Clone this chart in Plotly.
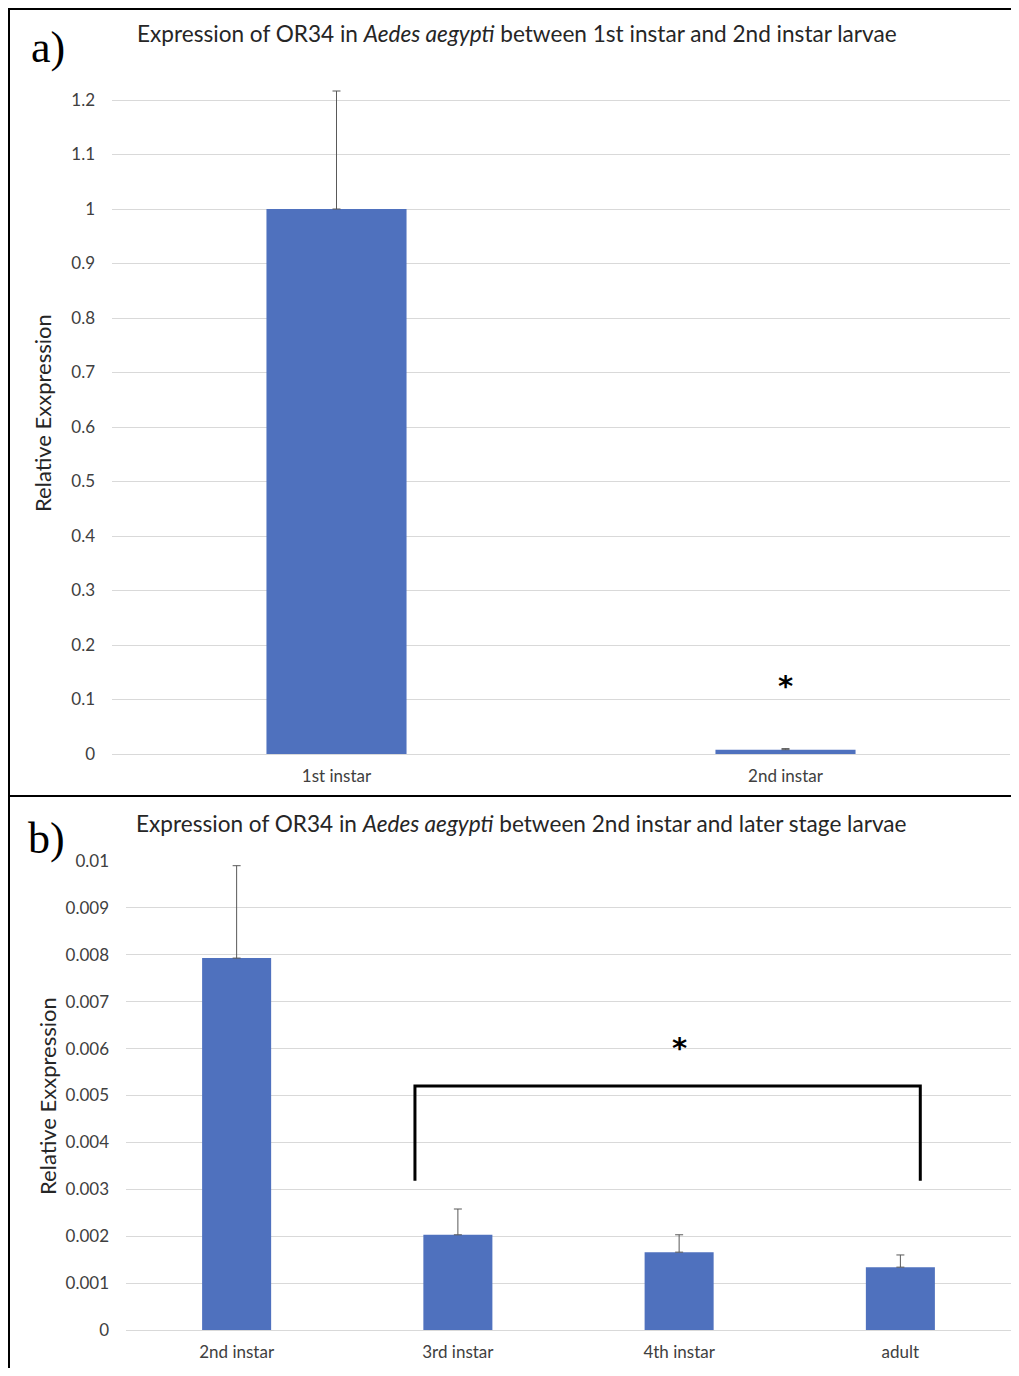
import plotly.graph_objects as go

# ---- data ----
cats_a = ["1st instar", "2nd instar"]
vals_a = [1.0, 0.0079]
err_a = [0.2165, 0.0020]

cats_b = ["2nd instar", "3rd instar", "4th instar", "adult"]
vals_b = [0.00793, 0.00203, 0.00166, 0.00134]
err_b = [0.00197, 0.00055, 0.00037, 0.00026]

star_a = ["2nd instar", 0.125]
star_b = [2.0, 0.00601]
bracket_x = [0.806, 3.09]
bracket_y = [0.00318, 0.0052]

title_a = "Expression of OR34 in <i>Aedes aegypti</i> between 1st instar and 2nd instar larvae"
title_b = "Expression of OR34 in <i>Aedes aegypti</i> between 2nd instar and later stage larvae"
ytitle = "Relative Exxpression"

W, H = 1003, 1360
OX, OY = 8, 8
BAR = "#4f71be"
FONT = "Lato"
TXT = "#262626"

def px(x):
    return min(1.0, max(0.0, (x - OX) / W))

def py(y):
    return min(1.0, max(0.0, 1 - (y - OY) / H))

fig = go.Figure()
fig.add_trace(go.Bar(
    x=cats_a, y=vals_a, marker=dict(color=BAR, line=dict(width=0)),
    error_y=dict(type="data", symmetric=False, array=err_a, arrayminus=[0] * len(err_a),
                 color="#595959", thickness=1, width=4),
    xaxis="x", yaxis="y", showlegend=False))
fig.add_trace(go.Bar(
    x=cats_b, y=vals_b, marker=dict(color=BAR, line=dict(width=0)),
    error_y=dict(type="data", symmetric=False, array=err_b, arrayminus=[0] * len(err_b),
                 color="#595959", thickness=1, width=4),
    xaxis="x2", yaxis="y2", showlegend=False))

tickfont = dict(family=FONT, size=17, color="#404040")
grid = "#d9d9d9"

# panel a: y=0 at px 754, 1.2 at px 100 -> 545 px/unit
ya_top = 754 - 1.23 * 545
common_x = dict(showline=False, ticks="", tickfont=tickfont, ticklabelstandoff=10,
                showgrid=False, zeroline=False, automargin=False)
common_y = dict(showgrid=True, gridcolor=grid, gridwidth=1, zeroline=True,
                zerolinecolor=grid, zerolinewidth=1, showline=False, ticks="",
                tickfont=tickfont, ticklabelstandoff=16, tickformat="~g", tick0=0,
                automargin=False)
fig.update_layout(
    width=W, height=H, margin=dict(l=0, r=0, t=0, b=0, pad=0, autoexpand=False),
    paper_bgcolor="white", plot_bgcolor="white",
    bargap=0.688,
    xaxis=dict(domain=[px(112), px(1010)], anchor="y", **common_x),
    yaxis=dict(domain=[py(754), py(ya_top)], anchor="x", range=[0, 1.23], dtick=0.1, **common_y),
    xaxis2=dict(domain=[px(126), px(1011)], anchor="y2", **common_x),
    yaxis2=dict(domain=[py(1330), py(861)], anchor="x2", range=[0, 0.01], dtick=0.001, **common_y),
)

def note(text, x, y, size, family=FONT, color=TXT, angle=0):
    return dict(text=text, x=px(x), y=py(y), xref="paper", yref="paper",
                xanchor="center", yanchor="middle", textangle=angle,
                showarrow=False, font=dict(family=family, size=size, color=color))

ann = [
    note(title_a, 517, 33, 22.6),
    note(title_b, 521, 823, 22.6),
    note(ytitle, 42, 413, 22, angle=-90),
    note(ytitle, 47, 1096, 22, angle=-90),
    note("a)", 48, 47, 44, family="Liberation Serif", color="black"),
    note("b)", 46, 838, 44, family="Liberation Serif", color="black"),
]
ann.append(dict(text="<b>*</b>", x=star_a[0], y=star_a[1], xref="x", yref="y",
                xanchor="center", yanchor="middle",
                showarrow=False, font=dict(family="DejaVu Sans", size=29, color="black")))
ann.append(dict(text="<b>*</b>", x=star_b[0], y=star_b[1], xref="x2", yref="y2",
                xanchor="center", yanchor="middle",
                showarrow=False, font=dict(family="DejaVu Sans", size=29, color="black")))
fig.update_layout(annotations=ann)

shapes = []
# outer borders
shapes.append(dict(type="line", xref="paper", yref="paper", x0=px(8), x1=1.0,
                   y0=py(9), y1=py(9), line=dict(color="black", width=2)))
shapes.append(dict(type="line", xref="paper", yref="paper", x0=px(8), x1=1.0,
                   y0=py(796), y1=py(796), line=dict(color="black", width=2)))
shapes.append(dict(type="line", xref="paper", yref="paper", x0=px(9), x1=px(9),
                   y0=py(9), y1=0, line=dict(color="black", width=2)))
# significance bracket
shapes.append(dict(type="path", xref="x2", yref="y2",
                   path=f"M {bracket_x[0]},{bracket_y[0]} L {bracket_x[0]},{bracket_y[1]} "
                        f"L {bracket_x[1]},{bracket_y[1]} L {bracket_x[1]},{bracket_y[0]}",
                   line=dict(color="black", width=3)))
fig.update_layout(shapes=shapes)

fig.write_html("out.html")
